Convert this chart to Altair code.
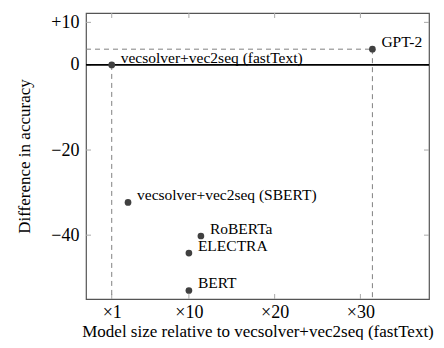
import altair as alt
import pandas as pd

models = ["vecsolver+vec2seq (fastText)", "GPT-2", "vecsolver+vec2seq (SBERT)",
          "RoBERTa", "ELECTRA", "BERT"]
size_ratio = [1, 31.4, 2.9, 11.4, 10, 10]
acc_diff = [0, 3.7, -32.3, -40.2, -44.2, -53.0]

x_ticks = [1, 10, 20, 30]
y_ticks = [10, 0, -20, -40]
x_domain = [-2, 38]
y_domain = [-55, 12.2]

W, H = 343, 286
FONT = "Liberation Serif"

pts = pd.DataFrame({"name": models, "x": size_ratio, "y": acc_diff})

xs = alt.Scale(domain=x_domain, nice=False, zero=False)
ys = alt.Scale(domain=y_domain, nice=False, zero=False)

x_axis = alt.Axis(values=x_ticks, labelExpr="'×' + datum.value",
                  title="Model size relative to vecsolver+vec2seq (fastText)",
                  domain=False, ticks=False, grid=False, labelPadding=4, titlePadding=2,
                  labelFontSize=18)
y_axis = alt.Axis(values=y_ticks,
                  labelExpr="datum.value > 0 ? '+' + datum.value : (datum.value < 0 ? '−' + abs(datum.value) : '0')",
                  title="Difference in accuracy",
                  domain=False, ticks=False, grid=False, labelPadding=7, titlePadding=17,
                  labelFontSize=18)

def X(f="x"):
    return alt.X(f + ":Q", scale=xs, axis=x_axis)

def Y(f="y"):
    return alt.Y(f + ":Q", scale=ys, axis=y_axis)

# dashed guide lines
gpt_x, gpt_y = size_ratio[1], acc_diff[1]
ft_x, ft_y = size_ratio[0], acc_diff[0]
dash_df = pd.DataFrame({
    "x": [x_domain[0], ft_x, gpt_x],
    "x2": [gpt_x, ft_x, gpt_x],
    "y": [gpt_y, ft_y, gpt_y],
    "y2": [gpt_y, y_domain[0], y_domain[0]],
})
dashes = alt.Chart(dash_df).mark_rule(color="#808080", strokeDash=[5, 4], strokeWidth=1).encode(
    x=X(), x2="x2:Q", y=Y(), y2="y2:Q")

zero_df = pd.DataFrame({"x": [x_domain[0]], "x2": [x_domain[1]], "y": [0]})
zero = alt.Chart(zero_df).mark_rule(color="black", strokeWidth=1.6).encode(
    x=X(), x2="x2:Q", y=Y())

# inner tick marks (pgfplots style)
xt = pd.DataFrame({"x": x_ticks})
yt = pd.DataFrame({"y": y_ticks})
tick_style = dict(color="#aaa", strokeWidth=1)
tb = alt.Chart(xt).mark_rule(**tick_style).encode(x=X(), y=alt.value(H), y2=alt.value(H - 5))
tt = alt.Chart(xt).mark_rule(**tick_style).encode(x=X(), y=alt.value(0), y2=alt.value(5))
tl = alt.Chart(yt).mark_rule(**tick_style).encode(y=Y(), x=alt.value(0), x2=alt.value(5))
tr = alt.Chart(yt).mark_rule(**tick_style).encode(y=Y(), x=alt.value(W), x2=alt.value(W - 5))

points = alt.Chart(pts).mark_circle(size=45, color="#404040", opacity=1).encode(x=X(), y=Y())
labels = alt.Chart(pts).mark_text(align="left", baseline="middle", dx=9, dy=-7,
                                  font=FONT, fontSize=15.5, color="black").encode(
    x=X(), y=Y(), text="name:N")

chart = alt.layer(tb, tt, tl, tr, dashes, zero, points, labels).properties(
    width=W, height=H,
    autosize=alt.AutoSizeParams(type="none"),
    padding={"left": 78, "top": 5, "right": 7, "bottom": 41},
).configure_view(stroke="#555", strokeWidth=1.2).configure_axis(
    labelFont=FONT, titleFont=FONT, titleFontSize=17,
    labelColor="black", titleColor="black", titleFontWeight="normal",
)

chart.save("out.html", embed_options={"renderer": "svg", "actions": False})
